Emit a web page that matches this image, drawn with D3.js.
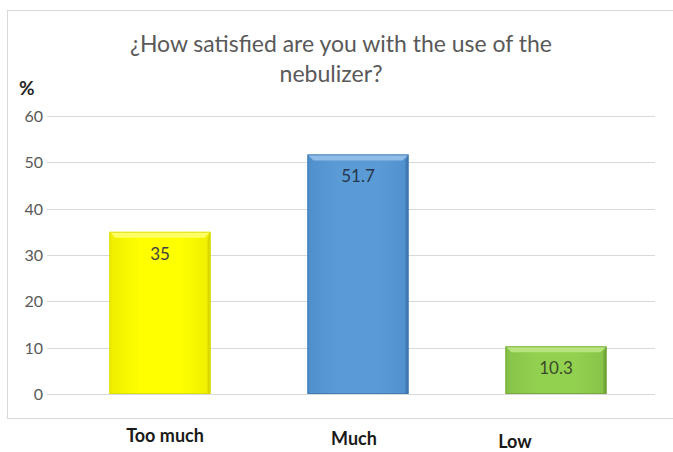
<!DOCTYPE html>
<html><head><meta charset="utf-8">
<script src="https://cdn.jsdelivr.net/npm/d3@7"></script>
<style>
html,body{margin:0;padding:0;background:#fff;}
svg{display:block;font-family:Lato,"Open Sans",sans-serif;}
</style></head>
<body>
<script>
const categories = ["Too much", "Much", "Low"];
const values = [35, 51.7, 10.3];
const valueLabels = ["35", "51.7", "10.3"];
const yTicks = [0, 10, 20, 30, 40, 50, 60];
const titleLines = ["¿How satisfied are you with the use of the", "nebulizer?"];
const yAxisTitle = "%";

const W = 673, H = 452;
const svg = d3.select("body").append("svg").attr("width", W).attr("height", H);

const palettes = [
  {base:"#ffff00", light:"#ffff66", dark:"#d4d400", side:"#eeee00", text:"#404040"},
  {base:"#5b9bd5", light:"#8fbce8", dark:"#3c73ad", side:"#4f8fcc", text:"#26364d"},
  {base:"#92d050", light:"#b8e47f", dark:"#6e9e36", side:"#86c248", text:"#3a4a2a"}
];

// chart border
svg.append("rect").attr("x", 7.5).attr("y", 10.5).attr("width", 700).attr("height", 408)
  .attr("fill", "#fff").attr("stroke", "#d9d9d9");

const x = d3.scaleBand().domain(categories).range([61, 655]).paddingInner(0.49).paddingOuter(0.245);
const y = d3.scaleLinear().domain([0, 60]).range([394, 116]);

// gridlines
svg.append("g").selectAll("line").data(yTicks).join("line")
  .attr("x1", 47).attr("x2", 655)
  .attr("y1", d => Math.round(y(d)) + 0.5).attr("y2", d => Math.round(y(d)) + 0.5)
  .attr("stroke", "#d9d9d9").attr("stroke-width", 1);

// y axis labels
const yAxis = d3.axisLeft(y).tickValues(yTicks).tickSize(0).tickPadding(0);
const ga = svg.append("g").attr("transform", "translate(43,0)").call(yAxis);
ga.select(".domain").remove();
ga.selectAll("text").attr("fill", "#595959").attr("font-size", 16)
  .attr("font-family", "Lato, 'Open Sans', sans-serif").attr("dy", "0.35em");

// % title
svg.append("text").attr("x", 19).attr("y", 95).text(yAxisTitle)
  .attr("font-size", 19).attr("font-weight", "bold").attr("fill", "#262626");

// bars with bevel
const bev = 6;
const gb = svg.append("g");
categories.forEach((c, i) => {
  const p = palettes[i];
  const x0 = x(c), w = x.bandwidth();
  const y0 = y(values[i]), y1 = y(0);
  const g = gb.append("g");
  const gid = "grad" + i;
  const grad = svg.append("defs").append("linearGradient").attr("id", gid)
    .attr("x1", 0).attr("x2", 1).attr("y1", 0).attr("y2", 0);
  grad.append("stop").attr("offset", "0%").attr("stop-color", p.side);
  grad.append("stop").attr("offset", "30%").attr("stop-color", p.base);
  grad.append("stop").attr("offset", "70%").attr("stop-color", p.base);
  grad.append("stop").attr("offset", "100%").attr("stop-color", p.side);
  g.append("rect").attr("x", x0).attr("y", y0).attr("width", w).attr("height", y1 - y0)
    .attr("fill", `url(#${gid})`);
  // top bevel
  g.append("path").attr("d", `M${x0},${y0}L${x0+w},${y0}L${x0+w-bev},${y0+bev}L${x0+bev},${y0+bev}Z`)
    .attr("fill", p.light);
  // left bevel
  g.append("path").attr("d", `M${x0},${y0}L${x0+bev*0.5},${y0+bev}L${x0+bev*0.5},${y1}L${x0},${y1}Z`)
    .attr("fill", p.side);
  // right bevel
  g.append("path").attr("d", `M${x0+w},${y0}L${x0+w-bev*0.5},${y0+bev}L${x0+w-bev*0.5},${y1}L${x0+w},${y1}Z`)
    .attr("fill", p.dark).attr("opacity", 0.8);
  g.append("rect").attr("x", x0 + 0.5).attr("y", y0 + 0.5).attr("width", w - 1).attr("height", y1 - y0 - 1)
    .attr("fill", "none").attr("stroke", p.dark).attr("stroke-width", 1).attr("opacity", 0.7);
  g.append("text").attr("x", x0 + w / 2).attr("y", y0 + 28).attr("text-anchor", "middle")
    .attr("font-size", 17).attr("fill", p.text).text(valueLabels[i]);
});

// title
const titlePos = [{cx: 341, y: 52, w: 422}, {cx: 331, y: 82, w: 103}];
titleLines.forEach((t, i) => {
  const el = svg.append("text").attr("x", titlePos[i].cx).attr("y", titlePos[i].y)
    .attr("text-anchor", "middle").attr("fill", "#595959").attr("font-size", 20).text(t);
  const len = el.node().getComputedTextLength();
  el.attr("font-size", 20 * titlePos[i].w / len);
});

// category labels (staggered as in the original)
const catPos = [{cx: 165, y: 442, w: 100}, {cx: 354, y: 445, w: 58}, {cx: 515, y: 448, w: 42}];
categories.forEach((c, i) => {
  const el = svg.append("text").attr("x", catPos[i].cx).attr("y", catPos[i].y)
    .attr("text-anchor", "middle").attr("font-weight", "bold").attr("fill", "#1a1a1a")
    .attr("font-size", 17).text(c);
  const len = el.node().getComputedTextLength();
  el.attr("font-size", Math.min(18, 17 * catPos[i].w / len));
});
</script>
</body></html>
